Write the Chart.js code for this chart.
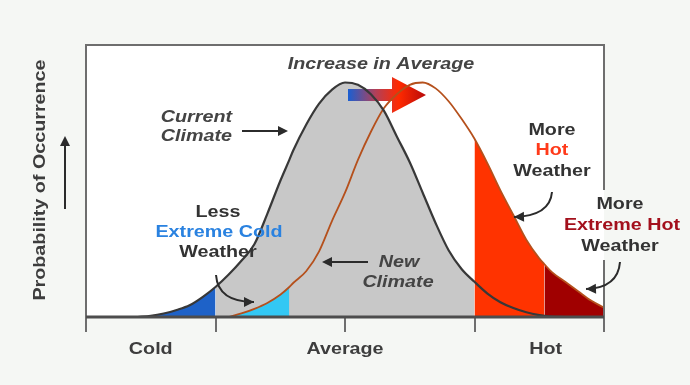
<!DOCTYPE html>
<html>
<head>
<meta charset="utf-8">
<script src="https://cdn.jsdelivr.net/npm/chart.js@4.4.1/dist/chart.umd.min.js"></script>
<style>
  html, body { margin: 0; padding: 0; background: #f5f7f4; }
  #wrap { width: 690px; height: 385px; position: relative; }
</style>
</head>
<body>
<div id="wrap"><canvas id="climateChart"></canvas></div>
<script>
// temperature axis runs 0..4 (tick every 1), curves in % of peak height
const xPoints = [0.4, 0.5, 0.6, 0.7, 0.8, 0.9, 1.0, 1.1, 1.2, 1.3, 1.4, 1.5, 1.57, 1.6, 1.7, 1.8, 1.9, 2.0,
  2.1, 2.2, 2.3, 2.4, 2.5, 2.6, 2.7, 2.8, 2.9, 3.0, 3.1, 3.2, 3.3, 3.4, 3.5, 3.54, 3.6, 3.7, 3.8, 3.9, 4.0];
const currentClimate = [0, 0.5, 1.5, 3, 5, 8.5, 12.8, 18, 24, 31, 44, 58, 67, 71, 82, 91, 97, 100,
  99, 95, 88, 77, 66, 53, 40, 28.5, 20.5, 15, 10, 6.3, 3.8, 2, 0.8, 0.5, 0.2, 0, null, null, null];
const newClimate = [null, null, null, null, null, null, null, 0, 1.5, 3.5, 6, 9.5, 12.8, 14.5, 19.5, 28, 41, 53,
  67, 79, 89, 95, 99, 100, 97.5, 92, 84.5, 76, 65.5, 54, 43.5, 33, 25, 22.5, 19, 15, 11, 7, 4];
const axisTicks = [0, 1, 2, 3, 4];
const axisLabels = ['Cold', 'Average', 'Hot'];
const axisLabelAt = [0.5, 2, 3.55];

// shaded bands: [from, to]
const extremeColdBand = [0.4, 1.0];
const currentBody = [1.0, 3.0];
const newColdBand = [1.1, 1.57];
const hotBand = [3.0, 3.54];
const extremeHotBand = [3.54, 4.0];

function curve(values, range) {
  const out = [];
  xPoints.forEach((x, i) => {
    if (values[i] === null) return;
    if (range && (x < range[0] - 1e-9 || x > range[1] + 1e-9)) return;
    out.push({ x: x, y: values[i] });
  });
  return out;
}

function band(values, range, color) {
  return {
    data: curve(values, range),
    backgroundColor: color,
    borderWidth: 0,
    pointRadius: 0,
    fill: 'origin',
    cubicInterpolationMode: 'monotone'
  };
}

const STRETCH = 1.16;
function label(ctx, str, x, y, color, italic, align) {
  ctx.save();
  ctx.font = (italic ? 'italic ' : '') + 'bold 17px "Liberation Sans", Arial, sans-serif';
  ctx.fillStyle = color;
  ctx.textBaseline = 'middle';
  ctx.textAlign = align || 'center';
  ctx.translate(x, y);
  ctx.scale(STRETCH, 1);
  ctx.fillText(str, 0, 0);
  ctx.restore();
}

function arrowHead(ctx, x, y, angle) {
  ctx.save();
  ctx.translate(x, y);
  ctx.rotate(angle);
  ctx.beginPath();
  ctx.moveTo(0, 0);
  ctx.lineTo(-10, -5);
  ctx.lineTo(-10, 5);
  ctx.closePath();
  ctx.fill();
  ctx.restore();
}

function straightArrow(ctx, x1, y1, x2, y2) {
  const ang = Math.atan2(y2 - y1, x2 - x1);
  ctx.beginPath();
  ctx.moveTo(x1, y1);
  ctx.lineTo(x2 - Math.cos(ang) * 6, y2 - Math.sin(ang) * 6);
  ctx.stroke();
  arrowHead(ctx, x2, y2, ang);
}

function curvedArrow(ctx, x1, y1, cx, cy, x2, y2) {
  ctx.beginPath();
  ctx.moveTo(x1, y1);
  ctx.quadraticCurveTo(cx, cy, x2, y2);
  ctx.stroke();
  arrowHead(ctx, x2, y2, Math.atan2(y2 - cy, x2 - cx));
}

const decorations = {
  id: 'decorations',
  beforeDraw(chart) {
    const { ctx, chartArea: a } = chart;
    ctx.save();
    ctx.fillStyle = '#ffffff';
    ctx.fillRect(a.left, a.top, a.right - a.left, a.bottom - a.top);
    ctx.restore();
  },
  afterDatasetDraw(chart, args) {
    if (args.index !== 2) return;
    // "increase in average" shift arrow, sits under the curve lines
    const ctx = chart.ctx;
    const g = ctx.createLinearGradient(348, 0, 426, 0);
    g.addColorStop(0, '#1a5fd2');
    g.addColorStop(0.35, '#b0405a');
    g.addColorStop(0.65, '#ff2a00');
    g.addColorStop(1, '#b80a0a');
    ctx.save();
    ctx.fillStyle = g;
    ctx.fillRect(348, 89, 46, 12);
    ctx.beginPath();
    ctx.moveTo(392, 77);
    ctx.lineTo(426, 95);
    ctx.lineTo(392, 113);
    ctx.closePath();
    ctx.fill();
    ctx.restore();
  },
  afterDraw(chart) {
    const { ctx, chartArea: a, scales: { x } } = chart;
    ctx.save();
    // frame
    ctx.strokeStyle = '#6e6e6e';
    ctx.lineWidth = 2;
    ctx.beginPath();
    ctx.moveTo(a.left, a.bottom);
    ctx.lineTo(a.left, a.top);
    ctx.lineTo(a.right, a.top);
    ctx.lineTo(a.right, a.bottom);
    ctx.stroke();
    // ticks
    axisTicks.forEach(t => {
      const px = Math.round(x.getPixelForValue(t));
      ctx.beginPath();
      ctx.moveTo(px, a.bottom);
      ctx.lineTo(px, a.bottom + 15);
      ctx.stroke();
    });
    // baseline
    ctx.strokeStyle = '#4d4d4d';
    ctx.lineWidth = 3;
    ctx.beginPath();
    ctx.moveTo(a.left, a.bottom);
    ctx.lineTo(a.right, a.bottom);
    ctx.stroke();
    axisLabels.forEach((s, i) => label(ctx, s, x.getPixelForValue(axisLabelAt[i]), a.bottom + 32, '#3d3d3d'));

    // y axis title and arrow
    ctx.save();
    ctx.translate(40, 180);
    ctx.rotate(-Math.PI / 2);
    ctx.scale(1.16, 1);
    ctx.font = 'bold 17px "Liberation Sans", Arial, sans-serif';
    ctx.fillStyle = '#3d3d3d';
    ctx.textAlign = 'center';
    ctx.textBaseline = 'middle';
    ctx.fillText('Probability of Occurrence', 0, 0);
    ctx.restore();
    ctx.strokeStyle = '#2b2b2b';
    ctx.fillStyle = '#2b2b2b';
    ctx.lineWidth = 2;
    straightArrow(ctx, 65, 209, 65, 136);

    // annotations
    label(ctx, 'Increase in Average', 381, 64, '#444', true);
    label(ctx, 'Current', 232, 117, '#444', true, 'right');
    label(ctx, 'Climate', 232, 136, '#444', true, 'right');
    straightArrow(ctx, 242, 131, 288, 131);

    label(ctx, 'Less', 218, 212, '#333');
    label(ctx, 'Extreme Cold', 219, 232, '#2a82e0');
    label(ctx, 'Weather', 218, 252, '#333');
    curvedArrow(ctx, 216, 275, 218, 302, 254, 302);

    label(ctx, 'New', 399, 262, '#444', true);
    label(ctx, 'Climate', 398, 282, '#444', true);
    straightArrow(ctx, 368, 262, 322, 262);

    label(ctx, 'More', 552, 130, '#333');
    label(ctx, 'Hot', 552, 150, '#ff3a1a');
    label(ctx, 'Weather', 552, 171, '#333');
    curvedArrow(ctx, 552, 192, 550, 216, 514, 217);

    // gap in the right frame line behind the label
    ctx.fillStyle = '#ffffff';
    ctx.fillRect(a.right - 1.5, 190, 1.5, 70);
    ctx.fillStyle = '#f5f7f4';
    ctx.fillRect(a.right, 190, 2, 70);
    label(ctx, 'More', 620, 204, '#333');
    label(ctx, 'Extreme Hot', 622, 225, '#a3101c');
    label(ctx, 'Weather', 620, 246, '#333');
    ctx.fillStyle = '#2b2b2b';
    curvedArrow(ctx, 620, 262, 618, 288, 586, 289);
    ctx.restore();
  }
};

new Chart(document.getElementById('climateChart').getContext('2d'), {
  type: 'line',
  data: {
    datasets: [
      { data: curve(currentClimate), borderColor: '#383838', borderWidth: 2.2, pointRadius: 0, fill: false, cubicInterpolationMode: 'monotone' },
      { data: curve(newClimate), borderColor: '#b5501c', borderWidth: 1.8, pointRadius: 0, fill: false, cubicInterpolationMode: 'monotone' },
      band(newClimate, newColdBand, '#33c8f4'),
      band(currentClimate, extremeColdBand, '#1e62c8'),
      band(newClimate, hotBand, '#ff3300'),
      band(newClimate, extremeHotBand, '#a00000'),
      band(currentClimate, currentBody, '#c8c8c8')
    ]
  },
  options: {
    responsive: true,
    maintainAspectRatio: false,
    animation: false,
    layout: { padding: { left: 86, right: 86, top: 45, bottom: 68 } },
    plugins: { legend: { display: false }, tooltip: { enabled: false } },
    scales: {
      x: { type: 'linear', min: 0, max: 4, display: false },
      y: { min: 0, max: 116, display: false }
    }
  },
  plugins: [decorations]
});
</script>
</body>
</html>
